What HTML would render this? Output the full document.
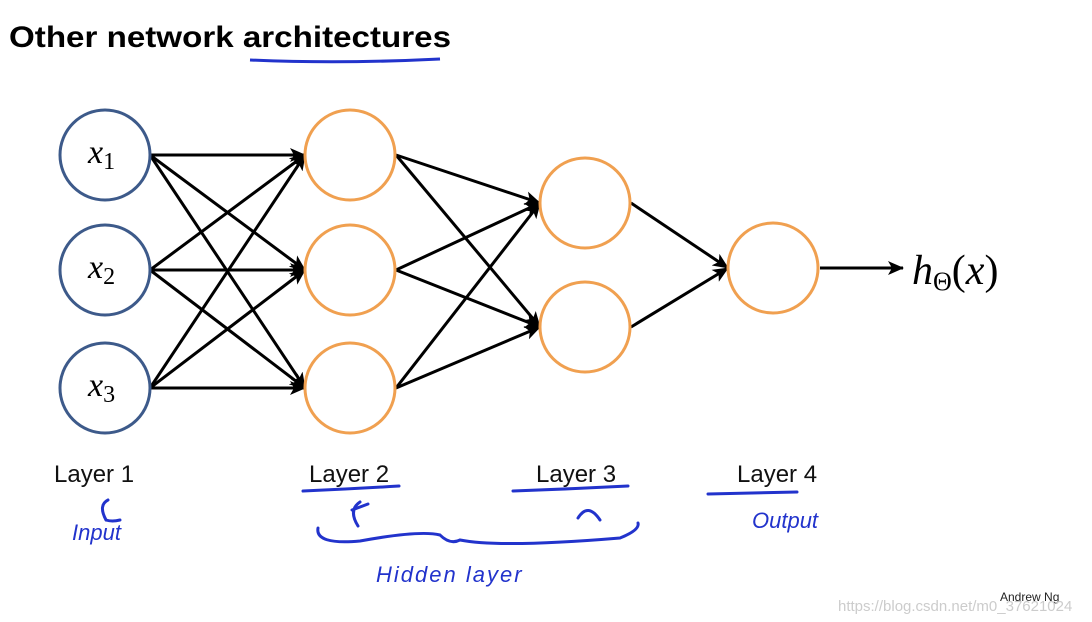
<!DOCTYPE html>
<html><head><meta charset="utf-8"><style>
body{margin:0;background:#fff;width:1092px;height:622px;overflow:hidden}
svg{display:block}
</style></head><body>
<svg width="1092" height="622" viewBox="0 0 1092 622" xmlns="http://www.w3.org/2000/svg">
<defs><marker id="b" markerWidth="16" markerHeight="14" refX="15" refY="7" orient="auto" markerUnits="userSpaceOnUse"><path d="M0,0 L16,7 L0,14 L4,7z" fill="#000"/></marker></defs>
<text x="9" y="47" font-family="Liberation Sans, sans-serif" font-weight="bold" font-size="30" fill="#000" textLength="442" lengthAdjust="spacingAndGlyphs">Other network architectures</text>
<path d="M250,60 Q340,64 440,59" stroke="#2233cc" stroke-width="3" fill="none"/>
<g stroke="#000" stroke-width="3" fill="none" marker-end="url(#b)">
<line x1="150" y1="155" x2="305" y2="155"/><line x1="150" y1="155" x2="305" y2="270"/><line x1="150" y1="155" x2="305" y2="388"/>
<line x1="150" y1="270" x2="305" y2="155"/><line x1="150" y1="270" x2="305" y2="270"/><line x1="150" y1="270" x2="305" y2="388"/>
<line x1="150" y1="388" x2="305" y2="155"/><line x1="150" y1="388" x2="305" y2="270"/><line x1="150" y1="388" x2="305" y2="388"/>
<line x1="396" y1="155" x2="540" y2="203"/><line x1="396" y1="155" x2="540" y2="327"/>
<line x1="396" y1="270" x2="540" y2="203"/><line x1="396" y1="270" x2="540" y2="327"/>
<line x1="396" y1="388" x2="540" y2="203"/><line x1="396" y1="388" x2="540" y2="327"/>
<line x1="631" y1="203" x2="728" y2="268"/><line x1="631" y1="327" x2="728" y2="268"/>
<line x1="820" y1="268" x2="903" y2="268"/>
</g>
<g stroke="#3d5a8a" stroke-width="3" fill="#fff">
<circle cx="105" cy="155" r="45"/><circle cx="105" cy="270" r="45"/><circle cx="105" cy="388" r="45"/></g>
<g stroke="#f0a050" stroke-width="3" fill="#fff">
<circle cx="350" cy="155" r="45"/><circle cx="350" cy="270" r="45"/><circle cx="350" cy="388" r="45"/>
<circle cx="585" cy="203" r="45"/><circle cx="585" cy="327" r="45"/><circle cx="773" cy="268" r="45"/></g>
<g font-family="Liberation Serif, serif" font-style="italic" font-size="34" fill="#000">
<text x="88" y="163">x<tspan font-style="normal" font-size="24" dy="6">1</tspan></text>
<text x="88" y="278">x<tspan font-style="normal" font-size="24" dy="6">2</tspan></text>
<text x="88" y="396">x<tspan font-style="normal" font-size="24" dy="6">3</tspan></text>
<text x="912" y="284" font-size="42">h<tspan font-style="normal" font-size="26" dy="6">Θ</tspan><tspan font-style="normal" dy="-6">(</tspan>x<tspan font-style="normal">)</tspan></text>
</g>
<g font-family="Liberation Sans, sans-serif" font-size="24" fill="#111">
<text x="54" y="482">Layer 1</text><text x="309" y="482">Layer 2</text><text x="536" y="482">Layer 3</text><text x="737" y="482">Layer 4</text>
</g>
<g stroke="#2233cc" stroke-width="3" fill="none" stroke-linecap="round">
<path d="M303,491 Q350,489 399,486"/><path d="M513,491 Q570,489 628,486"/><path d="M708,494 Q760,493 797,492"/>
<path d="M106,520 Q98,505 108,500 M106,520 Q112,522 120,520"/>
<path d="M358,526 Q348,510 360,502 M352,510 L368,504"/>
<path d="M578,518 Q588,502 600,520"/>
<path d="M318,528 Q315,545 360,541 Q420,530 440,535 Q450,545 460,540 Q500,548 620,538 Q640,530 638,523"/>
</g>
<g font-family="Liberation Sans, sans-serif" font-style="italic" font-size="22" fill="#2233cc">
<text x="72" y="540">Input</text><text x="752" y="528">Output</text><text x="376" y="582" letter-spacing="2">Hidden  layer</text>
</g>
<text x="1000" y="601" font-family="Liberation Sans, sans-serif" font-size="12" fill="#222">Andrew Ng</text>
<text x="838" y="611" font-family="Liberation Sans, sans-serif" font-size="15" fill="#ccc">https://blog.csdn.net/m0_37621024</text>
</svg>
</body></html>
